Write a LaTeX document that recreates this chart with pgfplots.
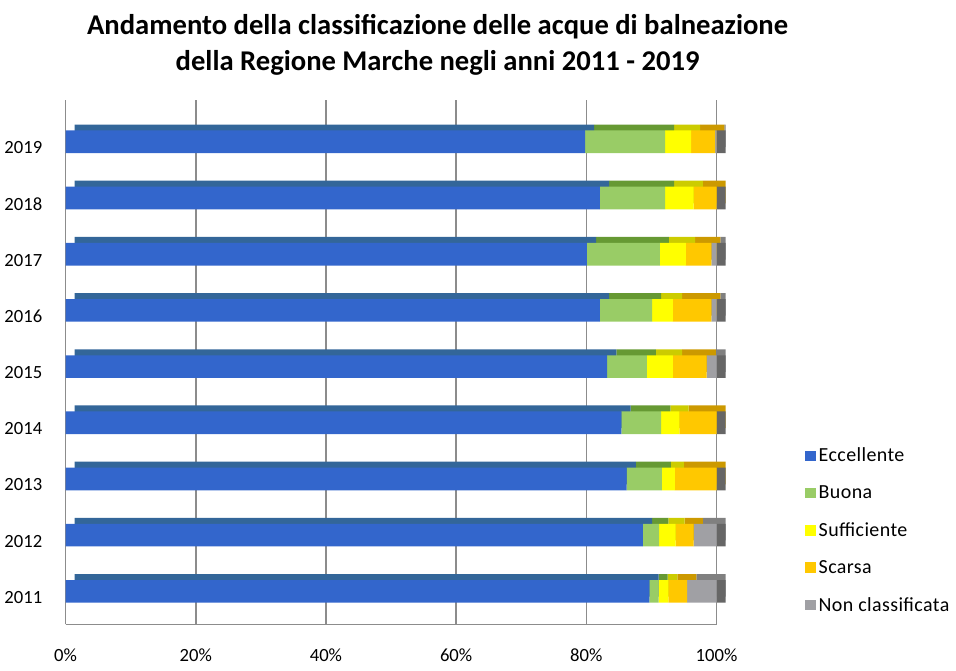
\documentclass[border=0pt]{standalone}
\usepackage{pgfplots}
\pgfplotsset{compat=1.18}
\usepackage{pgfplotstable}
\usepackage{fontspec}
\setmainfont{Carlito}
\definecolor{cEcc}{HTML}{3366CC}
\definecolor{cBuo}{HTML}{99CC66}
\definecolor{cSuf}{HTML}{FFFF00}
\definecolor{cSca}{HTML}{FFC800}
\definecolor{cNC}{HTML}{A0A0A4}
\definecolor{tEcc}{HTML}{336699}
\definecolor{tBuo}{HTML}{669933}
\definecolor{tSuf}{HTML}{CCCC00}
\definecolor{tSca}{HTML}{CC9900}
\definecolor{tNC}{HTML}{808080}
\definecolor{cSide}{HTML}{666666}
\definecolor{cGrid}{HTML}{8C8C8C}

\pgfplotstableread{
year ecc  buo  suf  sca  nc  side
2011 89.7 1.4  1.5  2.9  4.5 1.4
2012 88.7 2.5  2.5  2.8  3.5 1.4
2013 86.2 5.4  2.0  6.4  0.0 1.4
2014 85.4 6.1  2.8  5.7  0.0 1.4
2015 83.2 6.1  4.0  5.2  1.5 1.4
2016 82.1 8.0  3.2  5.9  0.8 1.4
2017 80.1 11.2 4.0  3.9  0.8 1.4
2018 82.1 10.0 4.4  3.5  0.0 1.4
2019 79.8 12.3 4.0  3.7  0.2 1.4
}\data

\pgfplotsset{common/.style={
  width=489pt, height=394pt, scale only axis,
  xmin=0, xmax=100, ymin=2010.413, ymax=2019.747,
  xbar stacked, bar width=17pt, clip=false,
  every axis plot/.append style={draw=none},
}}

\begin{document}
\begin{tikzpicture}
\begin{axis}[common,
  axis x line*=bottom, axis y line*=left,
  axis line style={cGrid, line width=1.2pt},
  xmajorgrids, grid style={cGrid, line width=1.2pt},
  xtick={0,20,40,60,80,100},
  xticklabels={0\%,20\%,40\%,60\%,80\%,100\%},
  ytick={2011,...,2019},
  major tick length=0pt,
  /pgf/number format/.cd, 1000 sep={}, assume math mode=true, /pgfplots/.cd,
  tick label style={font=\fontsize{14}{16}\selectfont},
  xticklabel style={yshift=-15pt},
  yticklabel style={xshift=-14pt, yshift=-4.5pt},
  title={Andamento della classificazione delle acque di balneazione\\della Regione Marche negli anni 2011 - 2019},
  title style={font=\fontsize{21.5}{27}\selectfont\bfseries, align=center, xshift=35pt, yshift=9pt},
  bar shift=4.5pt,
  extra description/.code={
    \path (rel axis cs:0,1) ++(0,75pt);
    \path (rel axis cs:0,0) ++(0,-34.5pt);
  },
]
\addplot[fill=none, forget plot] table[x=side, y=year] {\data};
\addplot[fill=tEcc] table[x=ecc, y=year] {\data};
\addplot[fill=tBuo] table[x=buo, y=year] {\data};
\addplot[fill=tSuf] table[x=suf, y=year] {\data};
\addplot[fill=tSca] table[x=sca, y=year] {\data};
\addplot[fill=tNC] table[x=nc, y=year] {\data};
\end{axis}
\begin{axis}[common, hide axis,
  legend style={draw=none, fill=none, at={(1.13,0.347)}, anchor=north west,
    font=\fontsize{15}{17}\selectfont\addfontfeatures{LetterSpace=2}, row sep=12.5pt},
  legend cell align=left,
  legend image code/.code={\fill[#1] (0pt,-4pt) rectangle (8pt,4pt);},
]
\addplot[fill=cEcc] table[x=ecc, y=year] {\data};
\addplot[fill=cBuo] table[x=buo, y=year] {\data};
\addplot[fill=cSuf] table[x=suf, y=year] {\data};
\addplot[fill=cSca] table[x=sca, y=year] {\data};
\addplot[fill=cNC] table[x=nc, y=year] {\data};
\addplot[fill=cSide, forget plot] table[x=side, y=year] {\data};
\legend{Eccellente, Buona, Sufficiente, Scarsa, Non classificata}
\end{axis}
\end{tikzpicture}
\end{document}
